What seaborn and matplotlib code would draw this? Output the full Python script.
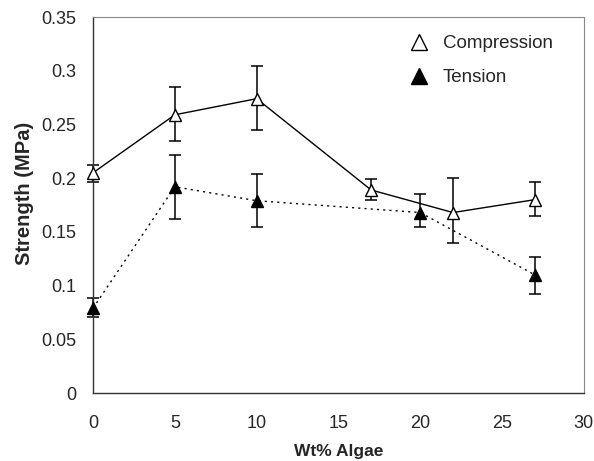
import matplotlib
matplotlib.use("Agg")
import matplotlib.pyplot as plt
import seaborn as sns
import pandas as pd
import numpy as np

# Data
comp_x = [0, 5, 10, 17, 22, 27]
comp_y = [0.205, 0.259, 0.274, 0.189, 0.168, 0.180]
comp_lo = [0.196, 0.235, 0.245, 0.180, 0.140, 0.165]
comp_hi = [0.212, 0.285, 0.304, 0.199, 0.200, 0.196]

tens_x = [0, 5, 10, 20, 27]
tens_y = [0.079, 0.192, 0.179, 0.168, 0.110]
tens_lo = [0.071, 0.162, 0.155, 0.155, 0.092]
tens_hi = [0.088, 0.222, 0.204, 0.185, 0.127]

x_ticks = [0, 5, 10, 15, 20, 25, 30]
y_ticks = [0, 0.05, 0.1, 0.15, 0.2, 0.25, 0.3, 0.35]
y_tick_labels = ["0", "0.05", "0.1", "0.15", "0.2", "0.25", "0.3", "0.35"]

sns.set_style("white")
plt.rcParams['font.family'] = ['Liberation Sans', 'DejaVu Sans']

fig = plt.figure(figsize=(5.94, 4.61), dpi=100)
ax = fig.add_axes([0.1566, 0.1475, 0.8264, 0.8155])

df_c = pd.DataFrame({"x": comp_x, "y": comp_y})
df_t = pd.DataFrame({"x": tens_x, "y": tens_y})

# error bars
eb1 = ax.errorbar(comp_x, comp_y,
            yerr=[np.array(comp_y) - np.array(comp_lo), np.array(comp_hi) - np.array(comp_y)],
            fmt='none', ecolor='black', elinewidth=1.1, capsize=4, capthick=1.1, zorder=2)
eb2 = ax.errorbar(tens_x, tens_y,
            yerr=[np.array(tens_y) - np.array(tens_lo), np.array(tens_hi) - np.array(tens_y)],
            fmt='none', ecolor='black', elinewidth=1.1, capsize=4, capthick=1.1, zorder=2)
for eb in (eb1, eb2):
    for art in eb.lines[1]:
        art.set_clip_on(False)
    for art in eb.lines[2]:
        art.set_clip_on(False)

sns.lineplot(data=df_c, x="x", y="y", ax=ax, color='black', linewidth=1.0,
             marker='^', markersize=8.5, markerfacecolor='white', markeredgecolor='black',
             markeredgewidth=1.0, label='Compression', zorder=3, clip_on=False)
sns.lineplot(data=df_t, x="x", y="y", ax=ax, color='black', linewidth=1.0,
             linestyle=(0, (1.5, 3)),
             marker='^', markersize=8.5, markerfacecolor='black', markeredgecolor='black',
             markeredgewidth=1.0, label='Tension', zorder=3, clip_on=False)

ax.set_xlim(0, 30)
ax.set_ylim(0, 0.35)
ax.set_xticks(x_ticks)
ax.set_xticklabels([str(v) for v in x_ticks], fontsize=13)
ax.set_yticks(y_ticks)
ax.set_yticklabels(y_tick_labels, fontsize=13)
ax.tick_params(axis='both', direction='in', length=3, width=0.8, color='#555555')
ax.tick_params(axis='x', pad=16)
ax.tick_params(axis='y', pad=12)

ax.set_xlabel("Wt% Algae", fontsize=12.5, fontweight='bold')
ax.xaxis.set_label_coords(0.5, -0.135)
ax.set_ylabel("Strength (MPa)", fontsize=14.5, fontweight='bold')
ax.yaxis.set_label_coords(-0.12, 0.532)

for side in ['left', 'bottom']:
    ax.spines[side].set_color('#333333')
    ax.spines[side].set_linewidth(1.0)
for side in ['top', 'right']:
    ax.spines[side].set_color('#888888')
    ax.spines[side].set_linewidth(0.8)
    ax.spines[side].set_linestyle((0, (2, 1)))

leg = ax.legend(loc='upper left', frameon=False, fontsize=13.5,
                handlelength=1.0, handletextpad=0.8, labelspacing=0.9,
                markerscale=1.3, bbox_to_anchor=(0.61, 0.997))
for h in leg.legend_handles:
    h.set_linestyle('None')

fig.savefig("out.png", dpi=100)
